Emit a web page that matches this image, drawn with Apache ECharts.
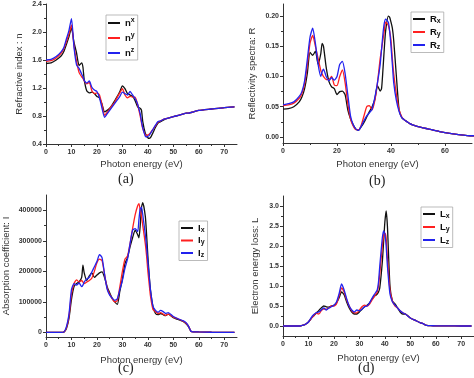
<!DOCTYPE html>
<html><head><meta charset="utf-8">
<script src="https://cdn.jsdelivr.net/npm/echarts@6/dist/echarts.min.js"></script>
<style>html,body{margin:0;padding:0;background:#fff}#c{width:474px;height:378px}</style>
</head><body><div id="c"></div>
<script>
// Photon energy grid (eV)
const energy = [0,2,4,6,7,8,9,10,11,12,13,14,14.5,15,16,17,18,19,20,21,22,23,24,25,26,27,28,29,30,31,32,33,34,35,36,36.5,37,37.5,38,39,39.5,40,40.5,41,42,43,44,45,46,47,48,50,52,54,55,56,57,58,60,65,70,74];

// (a) refractive index
const nX = [1.55,1.56,1.60,1.66,1.72,1.82,1.93,2.06,1.85,1.70,
 1.52,1.56,1.50,1.32,1.16,1.13,1.14,1.12,1.08,1.06,
 0.97,0.86,0.88,0.91,0.96,1.02,1.08,1.15,1.23,1.19,
 1.12,1.10,1.08,1.02,0.93,0.92,0.91,0.88,0.72,0.55,
 0.52,0.49,0.48,0.49,0.56,0.64,0.70,0.72,0.74,0.76,
 0.77,0.79,0.81,0.83,0.84,0.84,0.85,0.86,0.88,0.90,
 0.92,0.93];
const nY = [1.58,1.59,1.63,1.70,1.76,1.86,1.97,2.10,1.80,1.58,
 1.42,1.36,1.34,1.30,1.26,1.28,1.16,1.12,1.13,1.10,
 0.96,0.81,0.85,0.90,0.95,1.00,1.07,1.13,1.19,1.10,
 1.06,1.08,1.07,1.07,0.96,0.88,0.80,0.70,0.62,0.53,
 0.52,0.53,0.54,0.56,0.61,0.66,0.71,0.73,0.75,0.76,
 0.77,0.79,0.81,0.83,0.84,0.84,0.85,0.86,0.88,0.90,
 0.92,0.93];
const nZ = [1.60,1.61,1.65,1.72,1.78,1.90,2.02,2.19,1.78,1.53,
 1.48,1.40,1.36,1.31,1.27,1.30,1.21,1.17,1.15,1.06,
 0.91,0.78,0.83,0.88,0.93,0.98,1.03,1.08,1.14,1.12,
 1.10,1.15,1.10,1.05,0.97,0.90,0.83,0.72,0.63,0.51,
 0.50,0.51,0.52,0.55,0.61,0.67,0.72,0.73,0.75,0.76,
 0.77,0.79,0.81,0.83,0.84,0.84,0.85,0.86,0.88,0.90,
 0.92,0.93];

// (b) reflectivity
const rX = [0.046,0.047,0.050,0.058,0.066,0.080,0.105,0.140,0.135,0.142,
 0.120,0.138,0.155,0.150,0.115,0.092,0.083,0.080,0.070,0.075,
 0.076,0.070,0.045,0.030,0.020,0.013,0.011,0.017,0.024,0.033,
 0.042,0.050,0.062,0.085,0.076,0.080,0.110,0.145,0.175,0.200,
 0.198,0.190,0.180,0.160,0.100,0.045,0.032,0.028,0.025,0.022,
 0.020,0.017,0.015,0.013,0.012,0.011,0.010,0.009,0.007,0.004,
 0.002,0.002];
const rY = [0.052,0.053,0.056,0.064,0.072,0.088,0.118,0.155,0.168,0.150,
 0.130,0.110,0.104,0.100,0.095,0.095,0.100,0.086,0.085,0.100,
 0.111,0.090,0.055,0.030,0.018,0.012,0.012,0.020,0.035,0.050,
 0.052,0.045,0.060,0.090,0.130,0.145,0.160,0.175,0.190,0.185,
 0.175,0.160,0.130,0.105,0.070,0.045,0.033,0.028,0.025,0.022,
 0.020,0.017,0.015,0.013,0.012,0.011,0.010,0.009,0.007,0.004,
 0.002,0.002];
const rZ = [0.053,0.055,0.058,0.067,0.075,0.093,0.128,0.165,0.180,0.155,
 0.120,0.100,0.108,0.112,0.100,0.093,0.098,0.094,0.100,0.120,
 0.125,0.105,0.070,0.035,0.020,0.013,0.011,0.018,0.027,0.035,
 0.040,0.046,0.065,0.090,0.120,0.145,0.170,0.188,0.195,0.190,
 0.175,0.150,0.120,0.090,0.060,0.042,0.032,0.028,0.025,0.022,
 0.020,0.017,0.015,0.013,0.012,0.011,0.010,0.009,0.007,0.004,
 0.002,0.002];

// (c) absorption coefficient
const iX = [0,0,0,0,1000,12000,45000,108000,150000,160000,
 165000,180000,220000,195000,170000,185000,195000,180000,188000,195000,
 198000,180000,150000,130000,112000,100000,92000,135000,175000,225000,
 245000,280000,310000,335000,320000,310000,350000,410000,425000,380000,
 320000,250000,190000,140000,85000,62000,58000,62000,58000,55000,
 60000,48000,42000,35000,28000,18000,3000,2000,1500,500,
 0,0];
const iY = [0,0,0,0,1000,15000,52000,125000,160000,172000,
 165000,170000,165000,160000,165000,170000,178000,200000,228000,240000,
 235000,190000,145000,125000,110000,100000,105000,150000,200000,240000,
 250000,290000,340000,385000,415000,422000,400000,380000,350000,290000,
 250000,200000,160000,120000,75000,68000,62000,65000,60000,56000,
 60000,50000,44000,36000,30000,20000,3000,2000,1500,500,
 0,0];
const iZ = [0,0,0,0,1000,18000,58000,140000,160000,155000,
 162000,150000,155000,165000,175000,180000,198000,215000,232000,255000,
 245000,190000,142000,122000,112000,105000,110000,140000,170000,210000,
 240000,290000,335000,340000,330000,370000,405000,410000,385000,320000,
 280000,230000,185000,140000,85000,72000,66000,72000,68000,62000,
 65000,52000,44000,38000,32000,20000,3000,2000,1500,500,
 0,0];

// (d) electron energy loss
const lX = [0,0,0,0,0.005,0.02,0.05,0.10,0.18,0.25,
 0.32,0.38,0.42,0.45,0.50,0.48,0.47,0.50,0.52,0.58,
 0.70,0.85,0.78,0.60,0.45,0.35,0.30,0.30,0.35,0.42,
 0.48,0.52,0.58,0.68,0.75,0.77,0.80,0.85,0.95,1.60,
 2.10,2.60,2.88,2.50,1.00,0.62,0.55,0.45,0.35,0.30,
 0.30,0.20,0.14,0.08,0.06,0.02,0.01,0.008,0.005,0.002,
 0,0];
const lY = [0,0,0,0,0.005,0.02,0.05,0.10,0.18,0.25,
 0.32,0.30,0.33,0.38,0.42,0.42,0.45,0.50,0.50,0.55,
 0.75,0.95,0.85,0.65,0.50,0.38,0.33,0.33,0.40,0.48,
 0.52,0.50,0.55,0.65,0.75,0.80,0.85,1.00,1.30,2.00,
 2.25,2.32,2.20,1.70,0.90,0.62,0.50,0.45,0.38,0.33,
 0.30,0.20,0.14,0.08,0.06,0.02,0.01,0.008,0.005,0.002,
 0,0];
const lZ = [0,0,0,0,0.005,0.02,0.05,0.10,0.20,0.28,
 0.33,0.35,0.37,0.40,0.45,0.40,0.45,0.48,0.52,0.60,
 0.80,1.05,0.90,0.68,0.50,0.40,0.35,0.40,0.38,0.42,
 0.48,0.50,0.58,0.70,0.80,0.85,0.90,1.10,1.50,2.20,
 2.38,2.30,2.00,1.50,0.80,0.60,0.52,0.45,0.38,0.33,
 0.30,0.20,0.14,0.08,0.06,0.02,0.01,0.008,0.005,0.002,
 0,0];

// tick labels
const xTicks = [0,10,20,30,40,50,60,70];
const xMinor = [5,15,25,35,45,55,65];
const xTicksB = [0,20,40,60];
const xMinorB = [10,30,50];
const yTicksA = [0.4,0.8,1.2,1.6,2.0,2.4];
const yMinorA = [0.6,1.0,1.4,1.8,2.2];
const yTicksB = [0,0.05,0.10,0.15,0.20];
const yMinorB = [0.025,0.075,0.125,0.175];
const yTicksC = [0,100000,200000,300000,400000];
const yMinorC = [50000,150000,250000,350000];
const yTicksD = [0,0.5,1.0,1.5,2.0,2.5,3.0];
const yMinorD = [0.25,0.75,1.25,1.75,2.25,2.75];

const seriesColors = ['#111111', '#ff2020', '#2222ee'];
const FONT = '"Liberation Sans", Arial, sans-serif';

const panels = [
  {grid:{left:46, top:4, width:191, height:140}, xMax:75, xT:xTicks, xM:xMinor, yMin:0.4, yMax:2.4, yT:yTicksA, yM:yMinorA, fmt:v=>v.toFixed(1),
   yName:'Refractive index : n', yGap:22, xGap:15, names:['nx','ny','nz'], vals:[nX,nY,nZ], leg:{left:106, top:15}, script:'sup', rowH:12, gap:4},
  {grid:{left:283, top:4, width:189, height:139}, xMax:70, xT:xTicksB, xM:xMinorB, yMin:-0.01, yMax:0.22, yT:yTicksB, yM:yMinorB, fmt:v=>v.toFixed(2),
   yName:'Reflectivity spectra: R', yGap:26, xGap:16, names:['Rx','Ry','Rz'], vals:[rX,rY,rZ], leg:{left:411, top:12}, script:'sub', rowH:11, gap:2.5},
  {grid:{left:46, top:195, width:191, height:142}, xMax:75, xT:xTicks, xM:xMinor, yMin:-15000, yMax:450000, yT:yTicksC, yM:yMinorC, fmt:v=>String(v),
   yName:'Absorption coefficient: I', yGap:35, xGap:18, names:['Ix','Iy','Iz'], vals:[iX,iY,iZ], leg:{left:179, top:221}, script:'sub', rowH:11, gap:2},
  {grid:{left:283, top:196, width:191, height:140}, xMax:75, xT:xTicks, xM:xMinor, yMin:-0.25, yMax:3.25, yT:yTicksD, yM:yMinorD, fmt:v=>v.toFixed(1),
   yName:'Electron energy loss: L', yGap:23, xGap:17, names:['Lx','Ly','Lz'], vals:[lX,lY,lZ], leg:{left:421, top:207}, script:'sub', rowH:11, gap:2.5}
];
const captions = [['(a)',127,181],['(b)',378,183],['(c)',127,370],['(d)',367,370]];

const option = {animation:false, backgroundColor:'#fff', grid:[], xAxis:[], yAxis:[], series:[], legend:[], graphic:[]};
const axisCol = '#333';
panels.forEach((p, gi) => {
  option.grid.push(Object.assign({containLabel:false}, p.grid));
  const xi = option.xAxis.length, yi = option.yAxis.length;
  option.xAxis.push({type:'value', gridIndex:gi, min:0, max:p.xMax, position:'bottom',
    axisLine:{show:true, onZero:false, lineStyle:{color:axisCol, width:1}},
    axisTick:{show:true, length:3, customValues:p.xT, lineStyle:{color:axisCol}},
    axisLabel:{customValues:p.xT, fontSize:7, fontWeight:'bold', color:'#333', margin:5, fontFamily:FONT},
    splitLine:{show:false}, name:'Photon energy (eV)', nameLocation:'middle', nameGap:p.xGap,
    nameTextStyle:{fontSize:9.5, color:'#333', fontFamily:FONT}});
  option.xAxis.push({type:'value', gridIndex:gi, min:0, max:p.xMax, position:'bottom',
    axisLine:{show:false, onZero:false}, axisTick:{show:true, length:2, customValues:p.xM, lineStyle:{color:axisCol}},
    axisLabel:{show:false}, splitLine:{show:false}});
  option.yAxis.push({type:'value', gridIndex:gi, min:p.yMin, max:p.yMax, position:'left',
    axisLine:{show:true, onZero:false, lineStyle:{color:axisCol, width:1}},
    axisTick:{show:true, length:3, customValues:p.yT, lineStyle:{color:axisCol}},
    axisLabel:{customValues:p.yT, fontSize:7, fontWeight:'bold', color:'#333', margin:4, fontFamily:FONT, formatter:p.fmt},
    splitLine:{show:false}, name:p.yName, nameLocation:'middle', nameGap:p.yGap,
    nameTextStyle:{fontSize:9.5, color:'#333', fontFamily:FONT}});
  option.yAxis.push({type:'value', gridIndex:gi, min:p.yMin, max:p.yMax, position:'left',
    axisLine:{show:false, onZero:false}, axisTick:{show:true, length:2, customValues:p.yM, lineStyle:{color:axisCol}},
    axisLabel:{show:false}, splitLine:{show:false}});
  p.names.forEach((nm, k) => {
    option.series.push({type:'line', name:nm, xAxisIndex:xi, yAxisIndex:yi, symbol:'none', smooth:0.2,
      data: energy.map((e, j) => [e, p.vals[k][j]]),
      lineStyle:{width:1.3, color:seriesColors[k]}, itemStyle:{color:seriesColors[k]}, z:2+k});
  });
  const subStyle = p.script === 'sup'
    ? {fontSize:7, fontWeight:'bold', fontFamily:FONT, color:'#111', verticalAlign:'top', lineHeight:8}
    : {fontSize:7, fontWeight:'bold', fontFamily:FONT, color:'#111', verticalAlign:'bottom', lineHeight:8};
  option.legend.push({data:p.names, left:p.leg.left, top:p.leg.top, orient:'vertical', icon:'rect',
    itemWidth:12, itemHeight:2, itemGap:p.gap, padding:[2,3,2,2], borderColor:'#aaa', borderWidth:0.8,
    selectedMode:false,
    formatter: name => '{b|' + name[0] + '}{s|' + name.slice(1) + '}',
    textStyle:{rich:{
      b:{fontSize:9.5, fontWeight:'bold', fontFamily:FONT, color:'#111', verticalAlign:'middle', lineHeight:p.rowH},
      s:subStyle}}});
});
captions.forEach(c => option.graphic.push({type:'text', left:c[1]-9, top:c[2]-9,
  style:{text:c[0], font:'14px "Liberation Serif", "Times New Roman", serif', fill:'#222'}}));

const chart = echarts.init(document.getElementById('c'), null, {renderer:'canvas'});
chart.setOption(option);
</script></body></html>
